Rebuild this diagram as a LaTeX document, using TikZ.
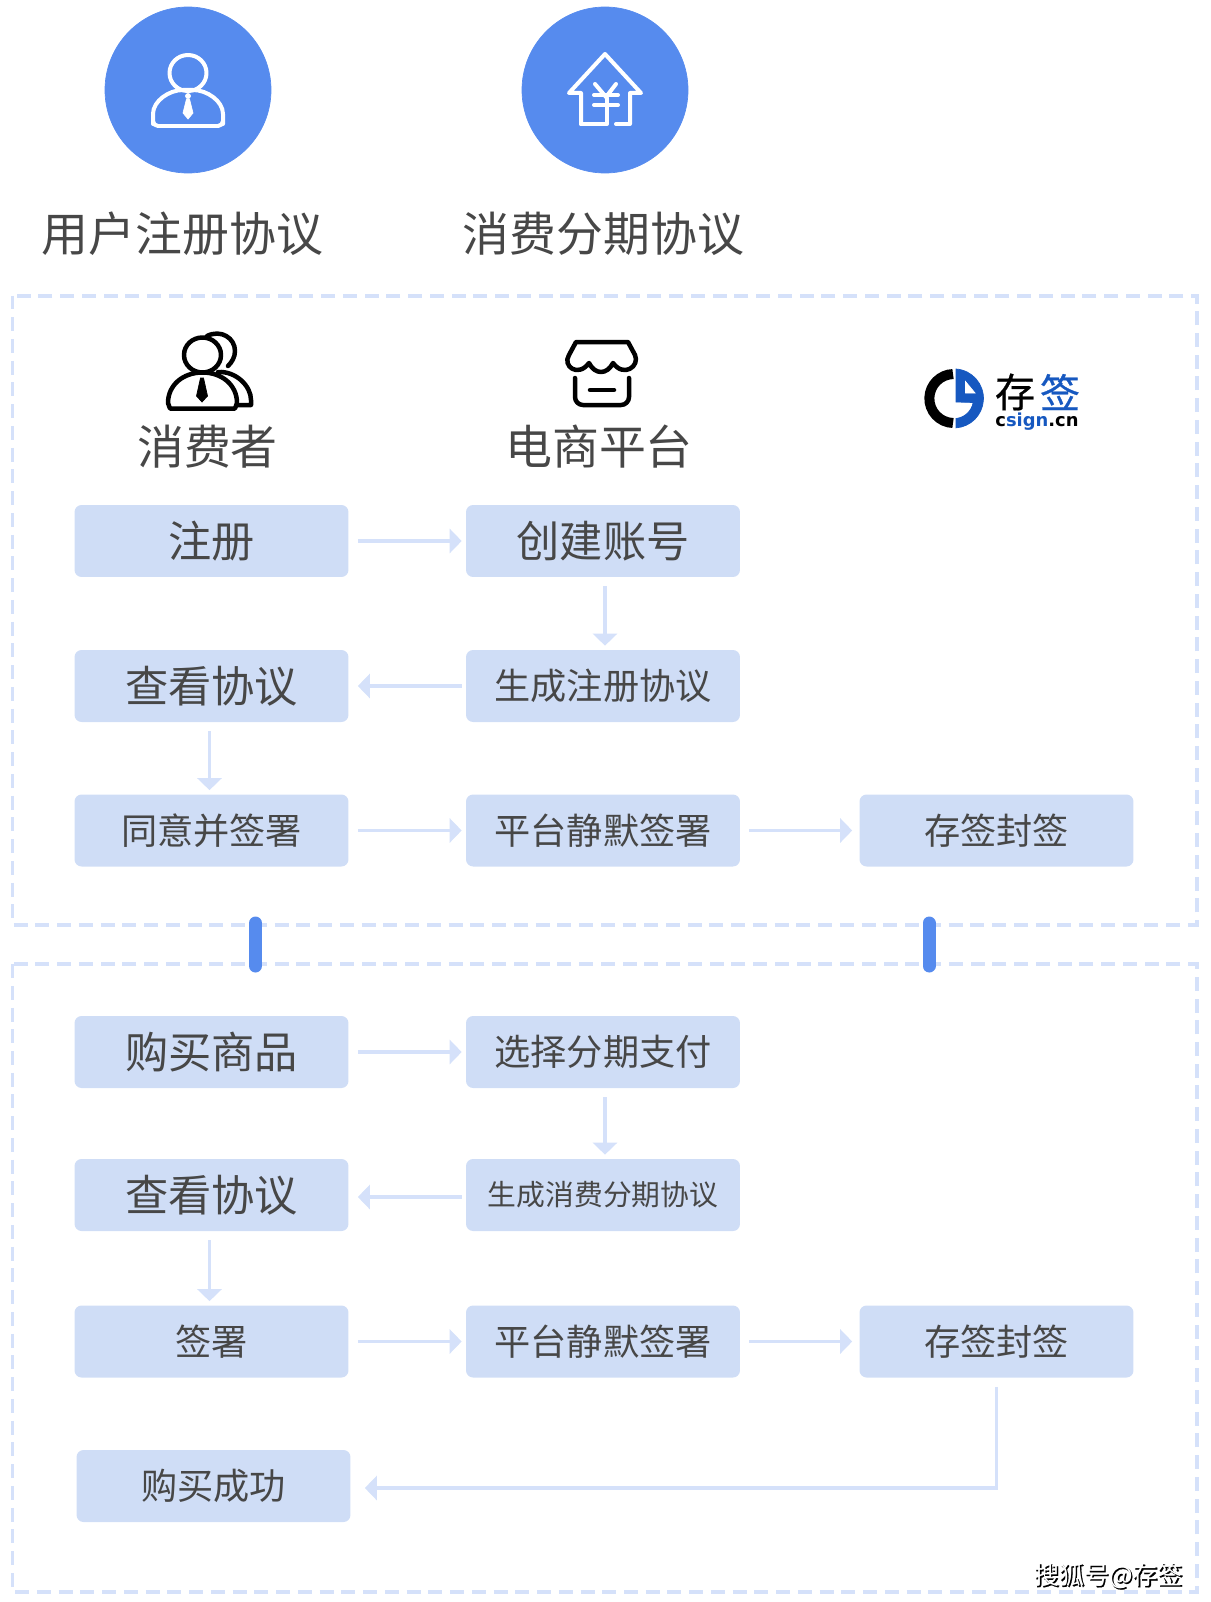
\documentclass[tikz,border=0pt]{standalone}
\usepackage{fontspec}
\setmainfont{Noto Sans CJK SC}
\newfontfamily\logofont{DejaVu Sans}
\newfontfamily\markfont[FakeBold=0.6]{Noto Sans CJK SC}
\usepackage{tikz}
\usetikzlibrary{arrows.meta,calc}

\definecolor{mainblue}{HTML}{568BEE}
\definecolor{boxfill}{HTML}{CFDDF6}
\definecolor{paleline}{HTML}{D5E1FA}
\definecolor{labelgray}{HTML}{474747}
\definecolor{logoblue}{HTML}{1658C0}

\newcommand{\txtsize}[1]{\fontsize{#1}{#1}\selectfont}

\begin{document}
\begin{tikzpicture}[x=0.02cm,y=-0.02cm,>={Triangle[length=0.24cm,width=0.48cm]},
  box/.style={fill=boxfill,rounded corners=0.14cm,minimum width=5.48cm,minimum height=1.44cm,inner sep=0pt,text=labelgray},
  large/.style={font=\txtsize{24.6}},
  medium/.style={font=\txtsize{20.6}},
  tiny/.style={font=\txtsize{16.4}},
  heading/.style={text=labelgray,inner sep=0pt,font=\txtsize{26.7}},
  flow/.style={draw=paleline,line width=0.07cm,->,shorten <=0.18cm,shorten >=0.08cm},
  backflow/.style={flow,shorten <=0.08cm,shorten >=0.18cm},
  region/.style={draw=paleline,line width=0.08cm,dash pattern=on 0.28cm off 0.155cm},
  link/.style={draw=mainblue,line width=0.26cm,line cap=round},
  whiteicon/.style={draw=white,line width=0.08cm,line join=round,line cap=round},
  blackicon/.style={draw=black,line width=0.09cm,line join=round,line cap=round}]
\useasboundingbox (0,0) rectangle (1210,1602);

% dashed regions
\draw[region] (12.5,295.5) rectangle (1197,925);
\draw[region] (12.5,964) rectangle (1197,1592);
\draw[link] (255.5,923) -- (255.5,966);
\draw[link] (929,923) -- (929,966);

% top circles
\filldraw[color=mainblue] (188,90) circle (83);
\filldraw[color=mainblue] (605,90) circle (83);

% person
\draw[whiteicon] (188,73) ellipse (18.5 and 18);
\draw[whiteicon,rounded corners=0.1cm] (153,119) .. controls (153,101) and (169,90) .. (188,90)
  .. controls (207,90) and (223,101) .. (223,119) -- (223,126) -- (153,126) -- cycle;
\filldraw[white] (188,96) circle (2.5);
\filldraw[white] (186.5,99) -- (189.5,99) -- (193,113) -- (188,119) -- (183,113) -- cycle;

% house with yen
\draw[whiteicon] (581,124) -- (581,93) -- (569,93) -- (605,54) -- (641,93) -- (630,93) -- (630,124) -- (616,124);
\draw[whiteicon] (581,124) -- (607,124) -- (607,98);
\draw[whiteicon] (595,84) -- (606,97) -- (616,84);
\draw[whiteicon] (594,95) -- (618,95);
\draw[whiteicon] (594,105) -- (618,105);

\node (agreement1) at (182.5,234) [heading] {用户注册协议};
\node (agreement2) at (603.5,234) [heading] {消费分期协议};

% consumer icon
\draw[blackicon] (207,336) .. controls (221,329) and (235,338) .. (235,351) .. controls (235,357) and (232,362) .. (228,366);
\draw[blackicon] (218,372) .. controls (236,371) and (251,386) .. (251,400) -- (251,405) -- (238,405);
\draw[blackicon,fill=white] (202.5,355) ellipse (18.5 and 17.5);
\draw[blackicon,fill=white] (168,403) .. controls (168,385) and (183,372.5) .. (202.5,372.5)
  .. controls (222,372.5) and (237,385) .. (237,403) -- (235,408.5) -- (170,408.5) -- cycle;
\filldraw[black] (200.5,378) -- (203.5,378) -- (207.5,396) -- (202,402) -- (196.5,396) -- cycle;

% shop icon
\draw[blackicon] (576,342) -- (628,342) -- (635,355) .. controls (640,366) and (624,378) .. (613,363)
  .. controls (607,375) and (595,375) .. (589,363) .. controls (578,378) and (562,366) .. (569,355) -- cycle;
\draw[blackicon,rounded corners=0.16cm] (575,378) -- (575,405) -- (629,405) -- (629,378);
\draw[blackicon] (590,390) -- (614,390);

% csign mark
\draw[black,line width=0.2cm] (953,423) arc (92:268:24.5);
\filldraw[logoblue] (956,369) arc (-86:86:29.5) -- (956,418.5) arc (84:10:19.5) -- (956,402) -- cycle;
\filldraw[white] (965.5,381.5) -- (975,393) -- (965.5,393) -- cycle;
\node (logocn) at (1015,392) [inner sep=0pt,font=\markfont\txtsize{22.8}] {存};
\node (logosign) at (1060,392) [inner sep=0pt,text=logoblue,font=\markfont\txtsize{22.8}] {签};
\node (logotext) at (1037,422) [inner sep=0pt,font=\logofont\bfseries\txtsize{10.2}] {c\textcolor{logoblue}{sign}.cn};

\node (consumer) at (207.5,447) [heading] {消费者};
\node (platform) at (599,447) [heading] {电商平台};

% registration rows
\node (reg) at (211.5,541) [box,large] {注册};
\node (account) at (603,541) [box,large] {创建账号};
\node (gen1) at (603,686) [box,medium] {生成注册协议};
\node (view1) at (211.5,686) [box,large] {查看协议};
\node (agree) at (211.5,830.5) [box,medium] {同意并签署};
\node (silent1) at (603,830.5) [box,medium] {平台静默签署};
\node (seal1) at (996.5,830.5) [box,medium] {存签封签};

\draw[flow] (reg) -- (account);
\draw[flow] ([xshift=0.04cm]account.south) -- ([xshift=0.04cm]gen1.north);
\draw[backflow] (gen1) -- (view1);
\draw[flow] ([xshift=-0.04cm]view1.south) -- ([xshift=-0.04cm]agree.north);
\draw[flow] (agree) -- (silent1);
\draw[flow,shorten >=0.14cm] (silent1) -- (seal1);

% purchase rows
\node (buy) at (211.5,1052) [box,large] {购买商品};
\node (pay) at (603,1052) [box,medium] {选择分期支付};
\node (gen2) at (603,1195) [box,tiny] {生成消费分期协议};
\node (view2) at (211.5,1195) [box,large] {查看协议};
\node (sign) at (211.5,1341.5) [box,medium] {签署};
\node (silent2) at (603,1341.5) [box,medium] {平台静默签署};
\node (seal2) at (996.5,1341.5) [box,medium] {存签封签};
\node (done) at (213.5,1486) [box,medium] {购买成功};

\draw[flow] (buy) -- (pay);
\draw[flow] ([xshift=0.04cm]pay.south) -- ([xshift=0.04cm]gen2.north);
\draw[backflow] ([yshift=-0.04cm]gen2.west) -- ([yshift=-0.04cm]view2.east);
\draw[flow] ([xshift=-0.04cm]view2.south) -- ([xshift=-0.04cm]sign.north);
\draw[flow] (sign) -- (silent2);
\draw[flow,shorten >=0.14cm] (silent2) -- (seal2);
\draw[flow,shorten >=0.28cm] (seal2) |- ([yshift=-0.04cm]done.east);

% site mark
\node (markshadow) at (1109.5,1577) [inner sep=0pt,text=black,font=\markfont\txtsize{14.2}] {搜狐号@存签};
\node (mark) at (1108.5,1576) [inner sep=0pt,text=white,font=\txtsize{14.2}] {搜狐号@存签};
\end{tikzpicture}
\end{document}
